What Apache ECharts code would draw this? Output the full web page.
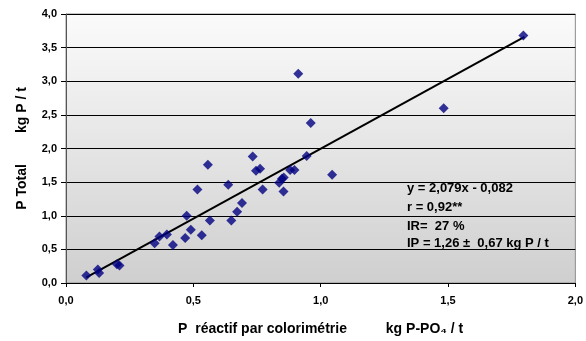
<!DOCTYPE html>
<html>
<head>
<meta charset="utf-8">
<script src="https://cdn.jsdelivr.net/npm/echarts@6/dist/echarts.min.js"></script>
<style>html,body{margin:0;padding:0;background:#fff;}#c{width:586px;height:341px;}</style>
</head>
<body>
<div id="c"></div>
<script>
var pointsX = [0.08,0.125,0.13,0.20,0.21,0.348,0.367,0.396,0.42,0.468,0.474,0.49,0.516,0.533,0.557,0.565,0.637,0.649,0.672,0.691,0.733,0.746,0.762,0.772,0.837,0.848,0.854,0.855,0.88,0.897,0.912,0.945,0.961,1.045,1.483,1.796];
var pointsY = [0.11,0.20,0.15,0.28,0.26,0.59,0.69,0.72,0.565,0.67,1.00,0.79,1.39,0.71,1.76,0.93,1.46,0.93,1.06,1.19,1.88,1.67,1.70,1.39,1.49,1.55,1.36,1.57,1.68,1.68,3.11,1.89,2.38,1.61,2.60,3.68];
var trendX = [0.08, 1.8];
var trendY = [0.084, 3.66];
var yTicks = [0,0.5,1,1.5,2,2.5,3,3.5,4];
var xTicks = [0,0.5,1,1.5,2];
var notes = ['y = 2,079x - 0,082','r = 0,92**','IR=  27 %','IP = 1,26 \u00b1  0,67 kg P / t'];

var FONT = '"Liberation Sans", Arial, "DejaVu Sans", sans-serif';
function fmt(v){ return v.toFixed(1).replace('.', ','); }

var scatter = pointsX.map(function(x,i){ return [x, pointsY[i]]; });
var trend = trendX.map(function(x,i){ return [x, trendY[i]]; });

var chart = echarts.init(document.getElementById('c'), null, {renderer:'canvas'});
chart.setOption({
  animation:false,
  backgroundColor:'#ffffff',
  grid:{left:66, right:8, top:14, bottom:56, show:true, borderColor:'#8c8c8c', borderWidth:1,
    backgroundColor:new echarts.graphic.LinearGradient(0,0,0,1,[{offset:0,color:'#fbfbfb'},{offset:1,color:'#cfcfcf'}])},
  xAxis:{type:'value', min:xTicks[0], max:xTicks[xTicks.length-1], interval:0.5,
    axisLine:{show:true, onZero:false, lineStyle:{color:'#000', width:1}},
    axisTick:{show:true, inside:false, length:4, lineStyle:{color:'#000'}},
    splitLine:{show:false},
    axisLabel:{formatter:fmt, color:'#000', fontWeight:'bold', fontSize:11, fontFamily:FONT, margin:12},
    name:'P  r\u00e9actif par colorim\u00e9trie          kg P-PO\u2084 / t',
    nameLocation:'middle', nameGap:39,
    nameTextStyle:{color:'#000', fontWeight:'bold', fontSize:14, fontFamily:FONT}
  },
  yAxis:{type:'value', min:yTicks[0], max:yTicks[yTicks.length-1], interval:0.5,
    axisLine:{show:true, onZero:false, lineStyle:{color:'#555', width:1}},
    axisTick:{show:true, inside:false, length:5, lineStyle:{color:'#000'}},
    splitLine:{show:true, lineStyle:{color:'#000', width:1}},
    axisLabel:{formatter:fmt, color:'#000', fontWeight:'bold', fontSize:11, fontFamily:FONT, margin:9},
    name:'P Total        kg P / t',
    nameLocation:'middle', nameGap:37,
    nameTextStyle:{color:'#000', fontWeight:'bold', fontSize:14, fontFamily:FONT}
  },
  series:[
    {type:'line', data:trend, symbol:'none', lineStyle:{color:'#000', width:2}, z:2},
    {type:'scatter', data:scatter, symbol:'diamond', symbolSize:[10,10], itemStyle:{color:'#000080'}, z:3}
  ],
  graphic:notes.map(function(t,i){
    var tops=[182,201,220,237];
    return {type:'text', left:407, top:tops[i], z:10,
      style:{text:t, fill:'#000', font:'bold 13px ' + FONT}};
  })
});
</script>
</body>
</html>
